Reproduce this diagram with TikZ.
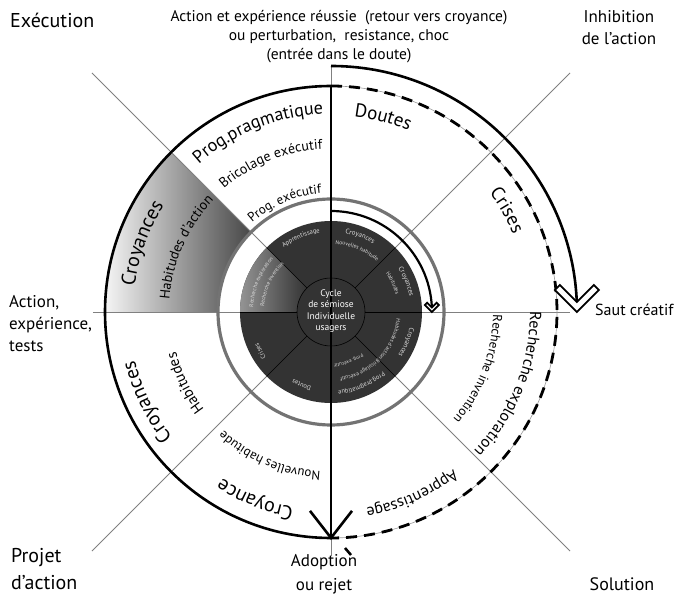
\documentclass[tikz,border=0pt]{standalone}
\usepackage{fontspec}
\setmainfont{PT Sans}
\usetikzlibrary{arrows.meta,decorations.text,calc}

% texte le long d'un arc, sens horaire
\newcommand{\TexteCourbe}[5]{%
	\path[decorate,decoration={text along path,text align=center,text color=#1,
		text={|\fontsize{#4}{#4}\selectfont|#5}}]
		(#3+80:#2) arc[start angle=#3+80,end angle=#3-80,radius=#2];}
% chevron creux : pointe, demi-largeur, epaisseur
\newcommand{\Chevron}[3]{%
	\draw[chevron] (#1) -- ++(-#2,#2) -- ++(#3,#3) -- ++({#2-#3},{#3-#2})
		-- ++({#2-#3},{#2-#3}) -- ++(#3,-#3) -- cycle;}

\begin{document}
\begin{tikzpicture}[x=1pt,y=1pt]
	\tikzstyle{fleche}=[-{Straight Barb[length=27pt,width=42pt,line width=2.6pt]},line width=2.6pt]
	\tikzstyle{trait}=[black!50,line width=0.8pt]
	\tikzstyle{separation}=[black,line width=0.6pt]
	\tikzstyle{cercle}=[line width=2.6pt]
	\tikzstyle{tirets}=[line width=2.8pt,dash pattern=on 11pt off 7pt]
	\tikzstyle{chevron}=[fill=white,line width=1.8pt,line join=miter]
	\tikzstyle{coin}=[inner sep=0pt,align=left]
	\tikzstyle{bloc}=[inner sep=0pt,align=center]
	
	\def\RayonExt{226}
	\def\RayonFleche{246}
	\def\RayonGris{113}
	\def\RayonRetour{101}
	\def\RayonDisque{91}
	\def\RayonCentre{34}
	\def\Diagonale{338}
	
	\useasboundingbox (-331,-284) rectangle (351,312);
	
	% secteur degrade
	\shade[left color=black!4,right color=black!72]
		(180:\RayonGris) -- (180:\RayonExt) arc[start angle=180,end angle=135,radius=\RayonExt]
		-- (135:\RayonGris) arc[start angle=135,end angle=180,radius=\RayonGris] -- cycle;
	
	% axes
	\foreach \a in {45,135,225,315}
		\draw[trait] (\a:\RayonCentre) -- (\a:\Diagonale);
	\draw[trait] (-238,0) -- (239,0);
	\draw[trait] (0,\RayonFleche) -- (0,-244);
	\draw[black!40,line width=0.6pt] (0,0) circle[radius=\RayonExt];
	
	% disque central
	\draw[black!55,line width=3.2pt] (0,0) circle[radius=\RayonGris];
	\fill[black!80] (0,0) circle[radius=\RayonDisque];
	\shade[left color=black!42,right color=black!80]
		(180:\RayonCentre) -- (180:\RayonDisque) arc[start angle=180,end angle=135,radius=\RayonDisque]
		-- (135:\RayonCentre) arc[start angle=135,end angle=180,radius=\RayonCentre] -- cycle;
	\foreach \a in {0,45,135,180,225,315}
		\draw[separation] (\a:\RayonCentre) -- (\a:\RayonDisque);
	\draw[separation] (0,0) circle[radius=\RayonCentre];
	
	\coordinate (Haut) at (0,\RayonExt);
	\coordinate (Bas) at (0,-228);
	\coordinate (DepartSaut) at (90:\RayonFleche);
	\coordinate (DepartRetour) at (90:\RayonRetour);
	
	% cercle exterieur
	\draw[cercle] (Haut) arc[start angle=90,end angle=270,radius=\RayonExt];
	\draw[tirets] (Haut) arc[start angle=90,end angle=-90,radius=\RayonExt];
	\draw[line width=2.6pt] (14,-236) -- (20,-243);
	\draw[fleche] (Haut) -- (Bas);
	
	% saut creatif
	\draw[line width=2.6pt] (DepartSaut) arc[start angle=90,end angle=2.33,radius=\RayonFleche] coordinate (FinSaut);
	\Chevron{$(FinSaut)+(0,-10)$}{22}{5}
	
	% retour interne
	\draw[line width=2.2pt] (DepartRetour) arc[start angle=90,end angle=2.6,radius=\RayonRetour] coordinate (FinRetour);
	\Chevron{$(FinRetour)+(0,-4.6)$}{7}{2.3}
	
	% textes exterieurs
	\TexteCourbe{black}{198}{112}{18}{Prog.pragmatique}
	\TexteCourbe{black}{163}{112}{14}{Bricolage exécutif}
	\TexteCourbe{black}{119}{113}{13}{Prog. exécutif}
	\TexteCourbe{black}{198}{160}{20}{Croyances}
	\TexteCourbe{black}{162}{156}{14}{Habitudes d'action}
	\TexteCourbe{black}{197}{75}{19}{Doutes}
	\TexteCourbe{black}{198}{30}{19}{Crises}
	\TexteCourbe{black}{199}{-22}{16}{Recherche exploration}
	\TexteCourbe{black}{162}{-21}{13}{Recherche invention}
	\TexteCourbe{black}{199}{-66}{16}{Apprentissage}
	\TexteCourbe{black}{199}{-112}{20}{Croyance}
	\TexteCourbe{black}{160}{-113}{13}{Nouvelles habitude}
	\TexteCourbe{black}{202}{-154}{20}{Croyances}
	\TexteCourbe{black}{160}{-154}{15}{Habitudes}
	
	% textes du disque
	\TexteCourbe{black!15}{80}{112}{6.5}{Apprentissage}
	\TexteCourbe{black!15}{80}{69}{7}{Croyances}
	\TexteCourbe{black!15}{68}{67}{5.5}{Nouvelles habitude}
	\TexteCourbe{black!15}{80}{22}{7}{Croyances}
	\TexteCourbe{black!15}{67}{25}{5.5}{Habitudes}
	\TexteCourbe{black!15}{80}{-22}{7}{Croyances}
	\TexteCourbe{black!15}{66}{-44}{5.5}{Habitudes d'action  Bricolage exécutif}
	\TexteCourbe{black!15}{79}{-67}{6.5}{Prog.pragmatique}
	\TexteCourbe{black!15}{52}{-70}{5}{Prog. exécutif}
	\TexteCourbe{black!15}{77}{-112}{6.5}{Doutes}
	\TexteCourbe{black!15}{79}{-151}{6.5}{Crises}
	\TexteCourbe{black!15}{78}{157}{5.5}{Recherche exploration}
	\TexteCourbe{black!15}{67}{155}{5.5}{Recherche invention}
	
	\node[bloc,text=white,font=\fontsize{9.5}{11.5}\selectfont] (Cycle) at (0,1) {Cycle\\de sémiose\\Individuelle\\usagers};
	
	% textes des coins
	\node[coin,anchor=west,font=\fontsize{20}{24}\selectfont] (Execution) at (-321,292) {Exécution};
	\node[bloc,font=\fontsize{15.5}{19}\selectfont] (Consigne) at (8,275) {Action et expérience réussie~ (retour vers croyance)\\ou perturbation,~ resistance, choc\\(entrée dans le doute)};
	\node[bloc,font=\fontsize{17}{22}\selectfont] (Inhibition) at (288,284) {Inhibition\\de l'action};
	\node[coin,anchor=west,font=\fontsize{17}{22}\selectfont] (Action) at (-322,-12) {Action,\\expérience,\\tests};
	\node[coin,anchor=west,font=\fontsize{16}{20}\selectfont] (Saut) at (264,2) {Saut créatif};
	\node[coin,anchor=west,font=\fontsize{20}{27}\selectfont] (Projet) at (-320,-257) {Projet\\d'action};
	\node[bloc,font=\fontsize{17}{24}\selectfont] (Adoption) at (-7,-262) {Adoption\\ou rejet};
	\node[bloc,font=\fontsize{18}{22}\selectfont] (Solution) at (291,-272) {Solution};
\end{tikzpicture}
\end{document}
